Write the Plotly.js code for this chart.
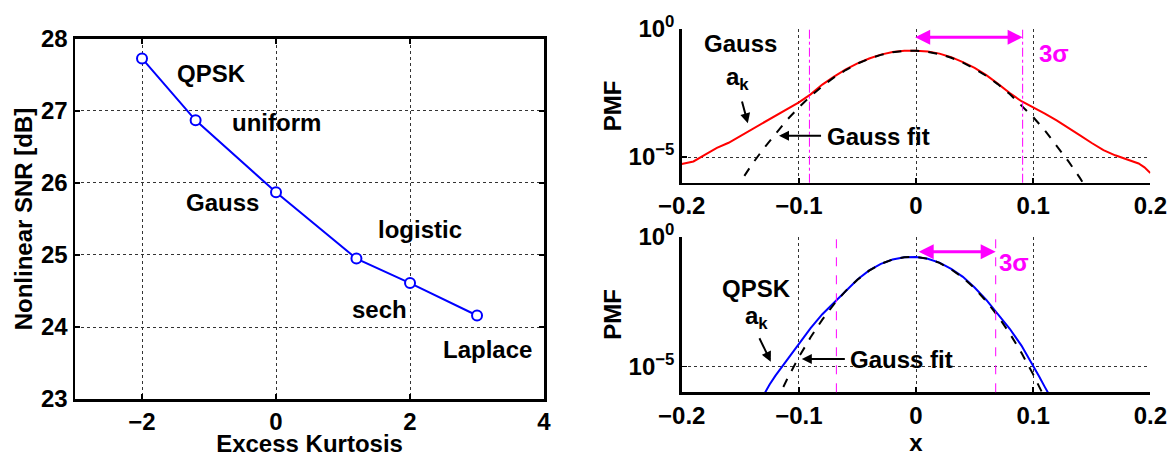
<!DOCTYPE html>
<html><head><meta charset="utf-8">
<script src="https://cdn.plot.ly/plotly-3.0.1.min.js"></script>
<style>html,body{margin:0;padding:0;background:#fff}#chart{width:1172px;height:457px}</style>
</head><body><div id="chart"></div>
<script>
// ---- Left panel: nonlinear SNR vs excess kurtosis ----
const kurtosis = [-2, -1.2, 0, 1.2, 2, 3];
const snrDb = [27.73, 26.87, 25.87, 24.95, 24.61, 24.16];
const distNames = ['QPSK', 'uniform', 'Gauss', 'logistic', 'sech', 'Laplace'];
const nameX = [-0.96, 0.01, -0.80, 2.15, 1.55, 3.16];
const nameY = [27.52, 26.84, 25.73, 25.35, 24.25, 23.69];

// ---- Top right: Gauss a_k PMF (log10 values) ----
const xTop = [-0.2,-0.19,-0.18,-0.17,-0.16,-0.15,-0.14,-0.13,-0.12,-0.11,-0.1,-0.09,-0.08,-0.07,-0.06,-0.05,-0.04,-0.03,-0.02,-0.01,0,0.01,0.02,0.03,0.04,0.05,0.06,0.07,0.08,0.09,0.1,0.11,0.12,0.13,0.14,0.15,0.16,0.17,0.18,0.19,0.195,0.2];
const gaussAkLog10 = [-5.27,-5.17,-4.90,-4.64,-4.44,-4.18,-3.93,-3.67,-3.40,-3.13,-2.86,-2.55,-2.17,-1.86,-1.58,-1.34,-1.15,-1.00,-0.90,-0.85,-0.85,-0.88,-0.96,-1.10,-1.29,-1.52,-1.80,-2.14,-2.50,-2.82,-3.05,-3.30,-3.57,-3.85,-4.15,-4.45,-4.73,-4.93,-5.08,-5.25,-5.40,-5.62];
const xFitTop = [-0.155,-0.15,-0.14,-0.13,-0.12,-0.11,-0.1,-0.09,-0.08,-0.07,-0.06,-0.05,-0.04,-0.03,-0.02,-0.01,0,0.01,0.02,0.03,0.04,0.05,0.06,0.07,0.08,0.09,0.1,0.11,0.12,0.13,0.14,0.145];
const gaussFitTopLog10 = [-6.32,-5.96,-5.28,-4.66,-4.08,-3.54,-3.06,-2.62,-2.23,-1.89,-1.60,-1.35,-1.16,-1.01,-0.91,-0.85,-0.85,-0.89,-0.98,-1.12,-1.31,-1.55,-1.83,-2.16,-2.54,-2.97,-3.44,-3.96,-4.54,-5.16,-5.82,-6.18];
const sigmaLinesTop = [-0.091, 0.091];
const sigmaArrowTop = [-0.002, 0.091];

// ---- Bottom right: QPSK a_k PMF (log10 values) ----
const xBot = [-0.13,-0.125,-0.12,-0.11,-0.1,-0.09,-0.08,-0.07,-0.06,-0.05,-0.04,-0.03,-0.02,-0.01,0,0.01,0.02,0.03,0.04,0.05,0.06,0.07,0.08,0.09,0.1,0.105,0.11,0.115];
const qpskAkLog10 = [-6.1,-5.7,-5.36,-4.74,-4.14,-3.53,-2.99,-2.53,-2.07,-1.65,-1.30,-1.05,-0.88,-0.79,-0.78,-0.85,-1.00,-1.24,-1.55,-1.96,-2.44,-2.98,-3.55,-4.2,-4.95,-5.38,-5.8,-6.2];
const xFitBot = [-0.12,-0.115,-0.11,-0.1,-0.09,-0.08,-0.07,-0.06,-0.05,-0.04,-0.03,-0.02,-0.01,0,0.01,0.02,0.03,0.04,0.05,0.06,0.07,0.08,0.09,0.1,0.105,0.11];
const gaussFitBotLog10 = [-6.42,-5.94,-5.49,-4.64,-3.88,-3.20,-2.60,-2.09,-1.66,-1.31,-1.05,-0.88,-0.79,-0.78,-0.85,-1.01,-1.26,-1.58,-1.99,-2.49,-3.07,-3.73,-4.48,-5.31,-5.76,-6.23];
const sigmaLinesBot = [-0.068, 0.068];
const sigmaArrowBot = [0.001, 0.068];

const pmfTickVals = [1e-5, 1];
const pmfTickText = ['10<sup>\u22125</sup>', '10<sup>0</sup>'];
const xPmfTicks = [-0.2, -0.1, 0, 0.1, 0.2];

const pow10 = a => a.map(v => Math.pow(10, v));
const FONT = 'Liberation Sans, Arial, Helvetica, sans-serif';
const f24 = {family: FONT, size: 24, color: '#000', weight: 'bold'};
const MAG = '#ff00ff';

const traces = [
  {x: kurtosis, y: snrDb, xaxis: 'x', yaxis: 'y', mode: 'lines+markers',
   line: {color: '#0000ff', width: 2},
   marker: {symbol: 'circle', size: 10, color: '#ffffff', line: {color: '#0000ff', width: 2}}},
  {x: xTop, y: pow10(gaussAkLog10), xaxis: 'x2', yaxis: 'y2', mode: 'lines', line: {color: '#ff0000', width: 2}},
  {x: xFitTop, y: pow10(gaussFitTopLog10), xaxis: 'x2', yaxis: 'y2', mode: 'lines', line: {color: '#000', width: 2, dash: 'dash'}},
  {x: xBot, y: pow10(qpskAkLog10), xaxis: 'x3', yaxis: 'y3', mode: 'lines', line: {color: '#0000ff', width: 2}},
  {x: xFitBot, y: pow10(gaussFitBotLog10), xaxis: 'x3', yaxis: 'y3', mode: 'lines', line: {color: '#000', width: 2, dash: 'dash'}}
];

const shapes = [];
sigmaLinesTop.forEach(s => shapes.push({type: 'line', xref: 'x2', yref: 'y2 domain', x0: s, x1: s, y0: 0, y1: 1, line: {color: MAG, width: 1, dash: 'dashdot'}}));
sigmaLinesBot.forEach(s => shapes.push({type: 'line', xref: 'x3', yref: 'y3 domain', x0: s, x1: s, y0: 0, y1: 1, line: {color: MAG, width: 1, dash: 'dash'}}));

const annotations = [];
distNames.forEach((n, i) => annotations.push({x: nameX[i], y: nameY[i], xref: 'x', yref: 'y', text: n, showarrow: false, font: f24}));
function txt(x, y, t, ax, col) {
  annotations.push({x: x, y: y, xref: 'x' + ax, yref: 'y' + ax, text: t, showarrow: false, font: Object.assign({}, f24, col ? {color: col} : {})});
}
function arr(x0, y0, x1, y1, ax, col, w, both) {
  annotations.push({x: x1, y: y1, ax: x0, ay: y0, xref: 'x' + ax, yref: 'y' + ax, axref: 'x' + ax, ayref: 'y' + ax,
    text: '', showarrow: true, arrowhead: 2, arrowsize: 1, arrowwidth: w, arrowcolor: col, arrowside: both ? 'end+start' : 'end', startarrowhead: 2});
}
// top panel
txt(-0.150, -0.56, 'Gauss', 2);
txt(-0.152, -1.95, 'a<sub>k</sub>', 2);
arr(-0.1489, -2.77, -0.1436, -3.68, 2, '#000', 2);
txt(-0.0324, -4.2, 'Gauss fit', 2);
arr(-0.0798, -4.17, -0.117, -4.17, 2, '#000', 2);
txt(0.118, -0.95, '3\u03c3', 2, MAG);
arr(sigmaArrowTop[0], -0.32, sigmaArrowTop[1], -0.32, 2, MAG, 3, true);
// bottom panel
txt(-0.1358, -1.99, 'QPSK', 3);
txt(-0.136, -3.1, 'a<sub>k</sub>', 3);
arr(-0.1343, -3.86, -0.124, -4.82, 3, '#000', 2);
txt(-0.012, -4.75, 'Gauss fit', 3);
arr(-0.0595, -4.72, -0.0975, -4.72, 3, '#000', 2);
txt(0.0836, -1.0, '3\u03c3', 3, MAG);
arr(sigmaArrowBot[0], -0.58, sigmaArrowBot[1], -0.58, 3, MAG, 3, true);

const gridCommon = {showgrid: true, gridcolor: '#333', griddash: 'dot', gridwidth: 1, zeroline: false,
  showline: true, linecolor: '#000', linewidth: 2.5, ticks: 'inside', ticklen: 5, tickwidth: 1.5, tickcolor: '#000',
  tickfont: f24};

const layout = {
  width: 1172, height: 457, margin: {l: 0, r: 0, t: 0, b: 0},
  paper_bgcolor: '#fff', plot_bgcolor: '#fff', showlegend: false,
  font: {family: FONT, color: '#000'},
  xaxis: Object.assign({}, gridCommon, {domain: [0.064, 0.4642], anchor: 'y', range: [-3, 4], tickvals: [-2, 0, 2, 4], mirror: 'ticks',
    title: {text: 'Excess Kurtosis', font: f24, standoff: 8}}),
  yaxis: Object.assign({}, gridCommon, {domain: [0.1269, 0.9147], anchor: 'x', range: [23, 28], tickvals: [23, 24, 25, 26, 27, 28], mirror: 'ticks',
    title: {text: 'Nonlinear SNR [dB]', font: f24, standoff: 2}}),
  xaxis2: Object.assign({}, gridCommon, {domain: [0.5817, 0.9815], anchor: 'y2', range: [-0.2, 0.2], tickvals: xPmfTicks}),
  yaxis2: Object.assign({}, gridCommon, {domain: [0.6002, 0.9365], anchor: 'x2', type: 'log', range: [-6, 0], tickvals: pmfTickVals, ticktext: pmfTickText,
    title: {text: 'PMF', font: f24, standoff: 0}}),
  xaxis3: Object.assign({}, gridCommon, {domain: [0.5817, 0.9815], anchor: 'y3', range: [-0.2, 0.2], tickvals: xPmfTicks,
    title: {text: 'x', font: f24, standoff: 0}}),
  yaxis3: Object.assign({}, gridCommon, {domain: [0.1416, 0.4821], anchor: 'x3', type: 'log', range: [-6, 0], tickvals: pmfTickVals, ticktext: pmfTickText,
    title: {text: 'PMF', font: f24, standoff: 0}}),
  shapes: shapes, annotations: annotations
};

Plotly.newPlot('chart', traces, layout, {displayModeBar: false, staticPlot: true});
</script>
</body></html>
